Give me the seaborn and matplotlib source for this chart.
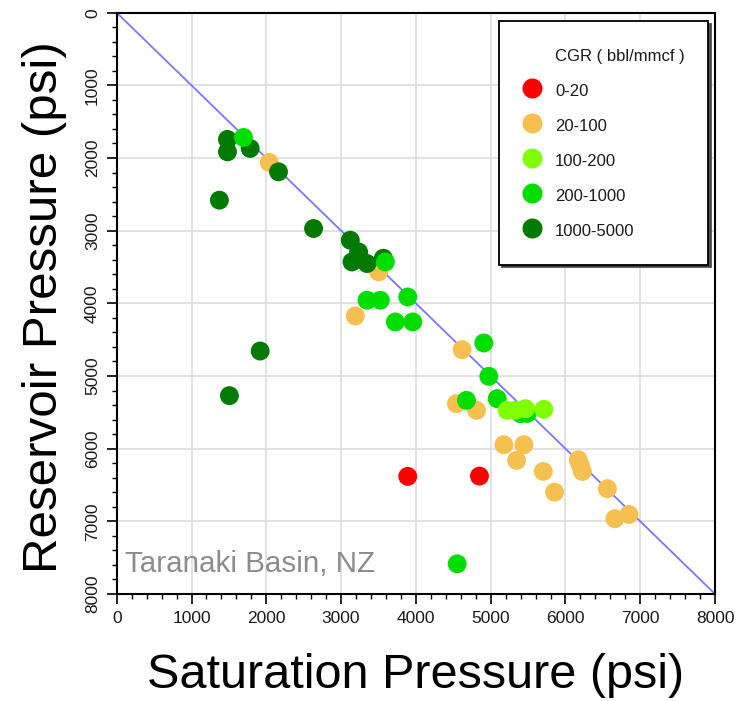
import matplotlib
matplotlib.use("Agg")
import matplotlib.pyplot as plt
from matplotlib.lines import Line2D
from matplotlib.ticker import MultipleLocator
import seaborn as sns
import pandas as pd

# ---------------- data ----------------
categories = ["0-20", "20-100", "100-200", "200-1000", "1000-5000"]
palette = ["#FF0000", "#F5C04F", "#80FF00", "#00DD00", "#007A00"]

orange_x = [2039, 3502, 3190, 4618, 4542, 4810, 5176, 5444, 5346, 5703, 5854, 6171, 6200, 6225, 6560, 6661, 6849]
orange_y = [2061, 3567, 4173, 4637, 5380, 5472, 5945, 5945, 6161, 6313, 6598, 6152, 6230, 6313, 6551, 6964, 6905]

red_x = [3891, 4850]
red_y = [6381, 6377]

dkgreen_x = [1481, 1481, 1784, 2163, 1373, 2632, 3123, 3234, 3146, 3347, 3565, 1918, 1507]
dkgreen_y = [1744, 1915, 1868, 2190, 2580, 2970, 3131, 3292, 3430, 3452, 3379, 4656, 5270]

green_x = [1695, 3592, 3347, 3525, 3891, 3726, 3958, 4908, 4975, 5087, 4676, 4552, 5400, 5489]
green_y = [1717, 3430, 3957, 3957, 3912, 4256, 4256, 4545, 5004, 5311, 5335, 7584, 5518, 5514]

ltgreen_x = [5221, 5332, 5466, 5711]
ltgreen_y = [5472, 5470, 5449, 5459]

x_ticks = [0, 1000, 2000, 3000, 4000, 5000, 6000, 7000, 8000]
y_ticks = [0, 1000, 2000, 3000, 4000, 5000, 6000, 7000, 8000]
diag = [0, 8000]

frames = []
for xs, ys, cat in [(orange_x, orange_y, "20-100"), (red_x, red_y, "0-20"),
                    (dkgreen_x, dkgreen_y, "1000-5000"), (green_x, green_y, "200-1000"),
                    (ltgreen_x, ltgreen_y, "100-200")]:
    frames.append(pd.DataFrame({"sat": xs, "res": ys, "CGR": cat}))
df = pd.concat(frames, ignore_index=True)

# ---------------- plot ----------------
sns.set_style("white")
plt.rcParams["font.family"] = ["Liberation Sans", "DejaVu Sans"]

fig = plt.figure(figsize=(7.41, 7.01), dpi=100)
ax = fig.add_axes([0.1575, 0.1526, 0.8075, 0.8293])

ax.plot(diag, diag, color="#7777FF", lw=1.3, zorder=2)
sns.scatterplot(data=df, x="sat", y="res", hue="CGR", hue_order=categories,
                palette=palette, s=185, linewidth=0, edgecolor="none",
                legend=False, ax=ax, zorder=3)

ax.set_xlim(0, 8000)
ax.set_ylim(8000, 0)
ax.set_xticks(x_ticks)
ax.set_yticks(y_ticks)
ax.xaxis.set_minor_locator(MultipleLocator(200))
ax.yaxis.set_minor_locator(MultipleLocator(200))
ax.grid(True, which="major", color="#DDDDDD", lw=1.2, zorder=0)
ax.set_axisbelow(True)

for sp in ax.spines.values():
    sp.set_color("black")
    sp.set_linewidth(1.5)

ax.tick_params(axis="both", which="major", direction="out", length=7, width=1.2,
               color="black", labelsize=12.5, labelcolor="#1a1a1a", pad=5,
               bottom=True, left=True)
ax.tick_params(axis="both", which="minor", direction="out", length=3.5, width=1.0,
               color="black", bottom=True, left=True)
for lab in ax.get_yticklabels():
    lab.set_rotation(90)
    lab.set_va("center")

ax.set_xlabel("Saturation Pressure (psi)", fontsize=35, color="black")
ax.set_ylabel("Reservoir Pressure (psi)", fontsize=35.5, color="black")
ax.xaxis.label.set_va("baseline")
ax.yaxis.label.set_va("baseline")
ax.xaxis.set_label_coords(0.5, -0.1617)
ax.yaxis.set_label_coords(-0.099, 0.493)

ax.text(0.014, 0.038, "Taranaki Basin, NZ", transform=ax.transAxes,
        fontsize=21.3, color="#8C8C8C", ha="left", va="baseline")

handles = [Line2D([], [], linestyle="none", marker=None)]
labels = ["CGR ( bbl/mmcf )"]
for c, col in zip(categories, palette):
    handles.append(Line2D([], [], linestyle="none", marker="o", markersize=14.4,
                          markerfacecolor=col, markeredgecolor="none"))
    labels.append(c)
leg = ax.legend(handles, labels, loc="upper left", bbox_to_anchor=(0.639, 0.9857),
                bbox_transform=ax.transAxes, borderaxespad=0, fontsize=12,
                frameon=True, fancybox=False, edgecolor="black",
                shadow={"color": "0.25", "alpha": 0.9},
                borderpad=1.4, handlelength=1.16, handleheight=1.6,
                handletextpad=0.8, labelspacing=0.82)
leg.get_frame().set_linewidth(1.3)
for t in leg.get_texts():
    t.set_color("#1a1a1a")

fig.savefig("out.png", dpi=100)
